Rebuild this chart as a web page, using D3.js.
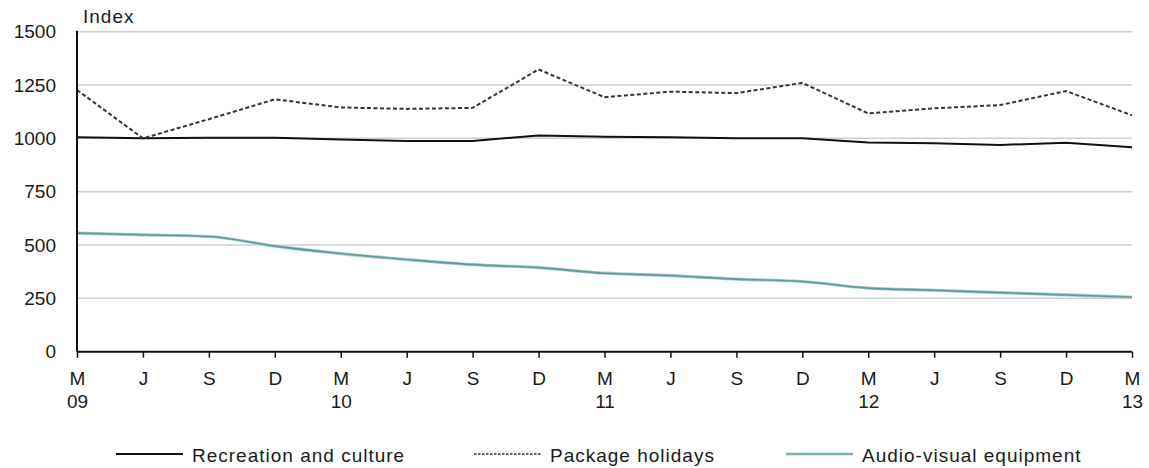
<!DOCTYPE html>
<html><head><meta charset="utf-8">
<script src="https://cdn.jsdelivr.net/npm/d3@7/dist/d3.min.js"></script>
<style>
html,body{margin:0;padding:0;background:#fff;}
svg{display:block;font-family:"Liberation Sans",Arial,sans-serif;}
</style></head>
<body>
<svg id="chart" width="1149" height="468"></svg>
<script>
const months = ["M","J","S","D","M","J","S","D","M","J","S","D","M","J","S","D","M"];
const years  = ["09","","","","10","","","","11","","","","12","","","","13"];
const recreation = [1005,1000,1003,1003,995,988,988,1014,1008,1005,1000,1000,981,977,969,980,958];
const packageHolidays = [1227,1000,1090,1183,1145,1138,1143,1323,1193,1219,1212,1260,1117,1141,1156,1222,1108];
const audioVisual = [556,548,540,495,460,432,408,394,368,357,340,329,298,288,277,266,256];
const yTicks = [0,250,500,750,1000,1250,1500];
const seriesNames = ["Recreation and culture","Package holidays","Audio-visual equipment"];

const svg = d3.select("#chart");
const mLeft = 77, mRight = 1132, mTop = 31.7, mBottom = 351.7;

const x = d3.scalePoint().domain(d3.range(months.length)).range([mLeft, mRight]);
const y = d3.scaleLinear().domain([0,1500]).range([mBottom, mTop]);

// gridlines
svg.append("g").selectAll("line").data(yTicks.filter(d=>d>0)).join("line")
  .attr("x1", mLeft).attr("x2", mRight)
  .attr("y1", d=>y(d)).attr("y2", d=>y(d))
  .attr("stroke", "#cfcfcf").attr("stroke-width", 1.5);

// y axis labels
const yAxis = d3.axisLeft(y).tickValues(yTicks).tickSize(0).tickPadding(21).tickFormat(d3.format("d"));
const gy = svg.append("g").attr("transform", `translate(${mLeft},0)`).call(yAxis);
gy.select(".domain").remove();
gy.selectAll("text").attr("font-size", 19).attr("fill", "#1a1a1a")
  .attr("font-family", "Liberation Sans, Arial, sans-serif");

svg.append("text").attr("x", 83).attr("y", 23).attr("font-size", 19)
  .attr("letter-spacing", 1).attr("fill", "#1a1a1a").text("Index");

// lines
const line = d3.line().x((d,i)=>x(i)).y(d=>y(d));
const smooth = d3.line().x((d,i)=>x(i)).y(d=>y(d)).curve(d3.curveMonotoneX);

svg.append("path").datum(audioVisual).attr("d", smooth)
  .attr("fill","none").attr("stroke","#a9cccc").attr("stroke-width",3.2);
svg.append("path").datum(audioVisual).attr("d", smooth)
  .attr("fill","none").attr("stroke","#5d9a9a").attr("stroke-width",1.6);

svg.append("path").datum(recreation).attr("d", line)
  .attr("fill","none").attr("stroke","#111").attr("stroke-width",2);

svg.append("path").datum(packageHolidays).attr("d", line)
  .attr("fill","none").attr("stroke","#333").attr("stroke-width",2)
  .attr("stroke-dasharray","4,2.5");

// y axis line
svg.append("line").attr("x1",mLeft).attr("x2",mLeft).attr("y1",mTop-1).attr("y2",mBottom)
  .attr("stroke","#111").attr("stroke-width",2);

// x axis
const xAxis = d3.axisBottom(x).tickSize(6).tickPadding(0).tickFormat(()=>"");
const gx = svg.append("g").attr("transform", `translate(0,${mBottom})`).call(xAxis);
gx.select(".domain").attr("stroke","#111").attr("stroke-width",2)
  .attr("d", `M${mLeft},0H${mRight}`);
gx.selectAll(".tick line").attr("stroke","#111").attr("stroke-width",1.5);
const ticks = gx.selectAll(".tick");
ticks.append("text").attr("y", 33).attr("fill","#1a1a1a").attr("font-size",19)
  .attr("text-anchor","middle").text(i=>months[i]);
ticks.append("text").attr("y", 56).attr("fill","#1a1a1a").attr("font-size",19)
  .attr("text-anchor","middle").text(i=>years[i]);

// legend
const legendX = [116, 474, 786];
const legendStyles = [
  {stroke:"#111", dash:null, w:2},
  {stroke:"#333", dash:"2.5,1.5", w:1.5},
  {stroke:"#7fb3b3", dash:null, w:2.5}
];
const lg = svg.append("g");
seriesNames.forEach((name,i)=>{
  const g = lg.append("g").attr("transform", `translate(${legendX[i]},454)`);
  g.append("line").attr("x1",0).attr("x2",67).attr("y1",0).attr("y2",0)
    .attr("stroke",legendStyles[i].stroke).attr("stroke-width",legendStyles[i].w)
    .attr("stroke-dasharray",legendStyles[i].dash);
  g.append("text").attr("x", 76).attr("y", 8).attr("font-size",19)
    .attr("letter-spacing",1).attr("fill","#1a1a1a").text(name);
});
</script>
</body></html>
